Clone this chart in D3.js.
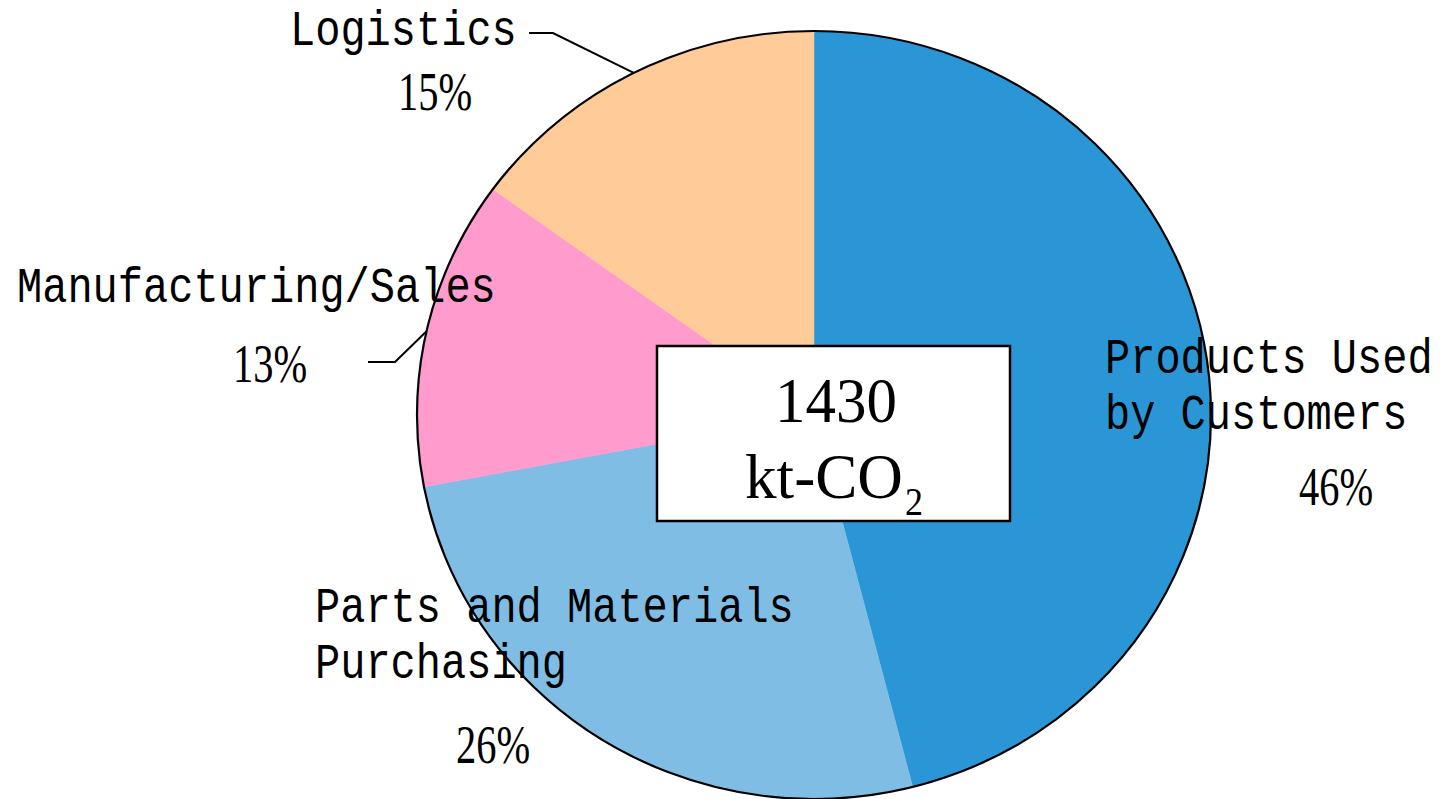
<!DOCTYPE html>
<html><head><meta charset="utf-8">
<script src="https://cdn.jsdelivr.net/npm/d3@7"></script>
<style>html,body{margin:0;padding:0;background:#fff;}svg{display:block;}</style>
</head><body>
<svg id="chart" width="1441" height="799"></svg>
<script>
const categories = ["Products Used by Customers", "Parts and Materials Purchasing", "Manufacturing/Sales", "Logistics"];
const values = [46, 26, 13, 15];
const percentLabels = ["46%", "26%", "13%", "15%"];
const colors = ["#2A96D5", "#7FBDE4", "#FF9BCD", "#FFCB98"];
const totalValue = "1430";
const totalUnit = "kt-CO";
const totalUnitSub = "2";

const svg = d3.select("#chart");
const cx = 814, cy = 415, RX = 397, RY = 384;
const MONO = "'Liberation Mono', monospace";
const SERIF = "'Liberation Serif', serif";

const pie = d3.pie().sort(null).value(d => d)(values);
const arc = d3.arc().innerRadius(0).outerRadius(RX);
const g = svg.append("g").attr("transform", `translate(${cx},${cy}) scale(1,${RY / RX})`);

g.selectAll("path.slice").data(pie).enter().append("path")
  .attr("class", "slice")
  .attr("d", arc)
  .attr("fill", (d, i) => colors[i])
  .attr("stroke", (d, i) => colors[i])
  .attr("stroke-width", 0.5);
svg.append("ellipse").attr("cx", cx).attr("cy", cy).attr("rx", RX).attr("ry", RY)
  .attr("fill", "none").attr("stroke", "#000").attr("stroke-width", 2.2);

// leader lines (from slice mid-angle on the rim to elbow)
function rimPoint(d) {
  const a = (d.startAngle + d.endAngle) / 2;
  return [cx + RX * Math.sin(a), cy - RY * Math.cos(a)];
}
const leaders = [
  { i: 3, pts: [[529, 33], [553, 33]] },
  { i: 2, pts: [[368, 362], [395, 362]] }
];
leaders.forEach(L => {
  const p = rimPoint(pie[L.i]);
  svg.append("path")
    .attr("d", d3.line()([L.pts[0], L.pts[1], p]))
    .attr("fill", "none").attr("stroke", "#000").attr("stroke-width", 2);
});

// monospace label, stretched vertically to the reference's tall glyphs
function addMono(str, x, y) {
  svg.append("text")
    .attr("transform", `translate(${x},${y}) scale(1,1.21)`)
    .attr("x", 0).attr("y", 0)
    .attr("font-family", MONO)
    .attr("font-size", 42)
    .attr("fill", "#000")
    .text(str);
}
function addText(str, x, y, size, adv) {
  return svg.append("text")
    .attr("x", x).attr("y", y)
    .attr("font-family", SERIF)
    .attr("font-size", size)
    .attr("textLength", str.length * adv)
    .attr("lengthAdjust", "spacingAndGlyphs")
    .attr("fill", "#000")
    .text(str);
}

const labelLines = [
  { i: 0, lines: ["Products Used", "by Customers"], x: 1105, y: [373, 429], px: 1299, py: 505 },
  { i: 1, lines: ["Parts and Materials", "Purchasing"], x: 315, y: [622, 678], px: 456, py: 763 },
  { i: 2, lines: ["Manufacturing/Sales"], x: 17, y: [302], px: 233, py: 382 },
  { i: 3, lines: ["Logistics"], x: 290, y: [45], px: 398, py: 110 }
];
labelLines.forEach(L => {
  L.lines.forEach((ln, k) => addMono(ln, L.x, L.y[k]));
  addText(percentLabels[L.i], L.px, L.py, 55, 24.7);
});

// center box
svg.append("rect").attr("x", 657).attr("y", 346).attr("width", 353).attr("height", 175)
  .attr("fill", "#fff").attr("stroke", "#000").attr("stroke-width", 2.5);
addText(totalValue, 775, 422, 63, 30.5);
addText(totalUnit, 745, 498, 63, 31.6);
addText(totalUnitSub, 905, 515, 40, 18);
</script>
</body></html>
